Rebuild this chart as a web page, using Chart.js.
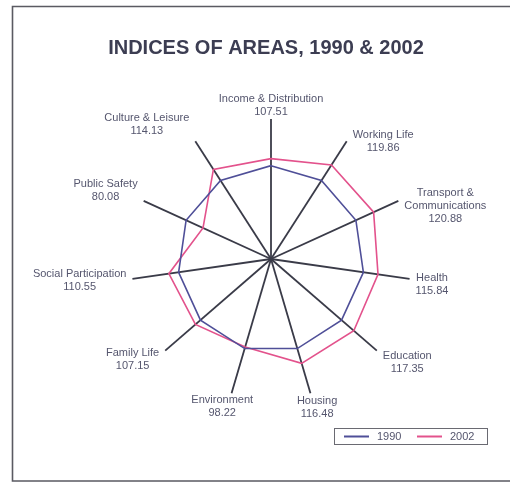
<!DOCTYPE html>
<html>
<head>
<meta charset="utf-8">
<script src="https://cdn.jsdelivr.net/npm/chart.js@4"></script>
<style>
  html, body { margin: 0; padding: 0; background: #ffffff; }
  #wrap { position: relative; width: 510px; height: 483px; }
  canvas { display: block; }
</style>
</head>
<body>
<div id="wrap"><canvas id="c" width="510" height="483"></canvas></div>
<script>
const titleText = 'INDICES OF AREAS, 1990 & 2002';
const categories = ['Income & Distribution', 'Working Life', 'Transport & Communications', 'Health', 'Education', 'Housing', 'Environment', 'Family Life', 'Social Participation', 'Public Safety', 'Culture & Leisure'];
const categoryLines = [['Income & Distribution'], ['Working Life'], ['Transport &', 'Communications'], ['Health'], ['Education'], ['Housing'], ['Environment'], ['Family Life'], ['Social Participation'], ['Public Safety'], ['Culture & Leisure']];
const values1990 = [100, 100, 100, 100, 100, 100, 100, 100, 100, 100, 100];
const values2002 = [107.51, 119.86, 120.88, 115.84, 117.35, 116.48, 98.22, 107.15, 110.55, 80.08, 114.13];
const seriesLabels = ['1990', '2002'];
const scaleMin = 0;
const scaleMax = 150;

const FONT = '"Liberation Sans", Arial, sans-serif';
const TEXT = '#55566e';

const decor = {
  id: 'decor',
  beforeDraw(chart) {
    const ctx = chart.ctx;
    ctx.save();
    ctx.fillStyle = '#ffffff';
    ctx.fillRect(0, 0, chart.width, chart.height);
    // frame
    ctx.strokeStyle = '#5a5a62';
    ctx.lineWidth = 1.6;
    ctx.beginPath();
    ctx.moveTo(520, 6.5);
    ctx.lineTo(12.5, 6.5);
    ctx.lineTo(12.5, 481);
    ctx.lineTo(520, 481);
    ctx.stroke();
    // title
    ctx.fillStyle = '#3c3d52';
    ctx.font = 'bold 20px ' + FONT;
    ctx.textAlign = 'center';
    ctx.textBaseline = 'alphabetic';
    ctx.fillText(titleText, 266, 54);
    ctx.restore();
  },
  afterDraw(chart) {
    const ctx = chart.ctx;
    const scale = chart.scales.r;
    const R = scale.drawingArea;
    ctx.save();
    ctx.font = '11px ' + FONT;
    ctx.fillStyle = TEXT;
    ctx.textAlign = 'center';
    ctx.textBaseline = 'middle';
    const lh = 13;
    categoryLines.forEach((lines, i) => {
      const all = lines.concat([values2002[i].toFixed(2)]);
      const p = scale.getPointPosition(i, R);
      const dx = (p.x - scale.xCenter) / R;
      const dy = (p.y - scale.yCenter) / R;
      const w = Math.max(...all.map(t => ctx.measureText(t).width));
      const h = all.length * lh;
      const f = Math.abs(dx) >= 0.4 ? Math.max(-1, Math.min(1, dx * 2)) : dx * 0.9;
      const cx = p.x + f * (w / 2) + Math.sign(dx) * 6 * Math.abs(f);
      const cy = p.y + 2 + 12 * dy + 16 * dx * Math.max(0, -dy) + 2 * dx - 2 * Math.max(0, -dy - 0.95) * 40;
      all.forEach((t, k) => {
        ctx.fillText(t, cx, cy - h / 2 + lh / 2 + k * lh);
      });
    });
    // legend
    const ds = chart.data.datasets;
    ctx.strokeStyle = '#6a6a72';
    ctx.lineWidth = 1;
    ctx.strokeRect(334.5, 428.5, 153, 16);
    ctx.textAlign = 'left';
    const items = [{x: 344}, {x: 417}];
    items.forEach((it, k) => {
      ctx.strokeStyle = ds[k].borderColor;
      ctx.lineWidth = 2;
      ctx.beginPath();
      ctx.moveTo(it.x, 436.5);
      ctx.lineTo(it.x + 25, 436.5);
      ctx.stroke();
      ctx.fillStyle = TEXT;
      ctx.fillText(ds[k].label, it.x + 33, 437);
    });
    ctx.restore();
  }
};

new Chart(document.getElementById('c'), {
  type: 'radar',
  data: {
    labels: categories,
    datasets: [
      { label: seriesLabels[0], data: values1990, borderColor: '#4f4f98', borderWidth: 1.6, fill: false, pointRadius: 0, pointHoverRadius: 0, tension: 0 },
      { label: seriesLabels[1], data: values2002, borderColor: '#e3528c', borderWidth: 1.6, fill: false, pointRadius: 0, pointHoverRadius: 0, tension: 0 }
    ]
  },
  options: {
    responsive: false,
    animation: false,
    devicePixelRatio: 1,
    layout: { padding: { left: 131, right: 99, top: 119, bottom: 84 } },
    plugins: { legend: { display: false }, title: { display: false }, tooltip: { enabled: false } },
    scales: {
      r: {
        min: scaleMin,
        max: scaleMax,
        ticks: { display: false },
        grid: { display: false },
        angleLines: { display: true, color: '#3a3b48', lineWidth: 1.8 },
        pointLabels: { display: false }
      }
    }
  },
  plugins: [decor]
});
</script>
</body>
</html>
